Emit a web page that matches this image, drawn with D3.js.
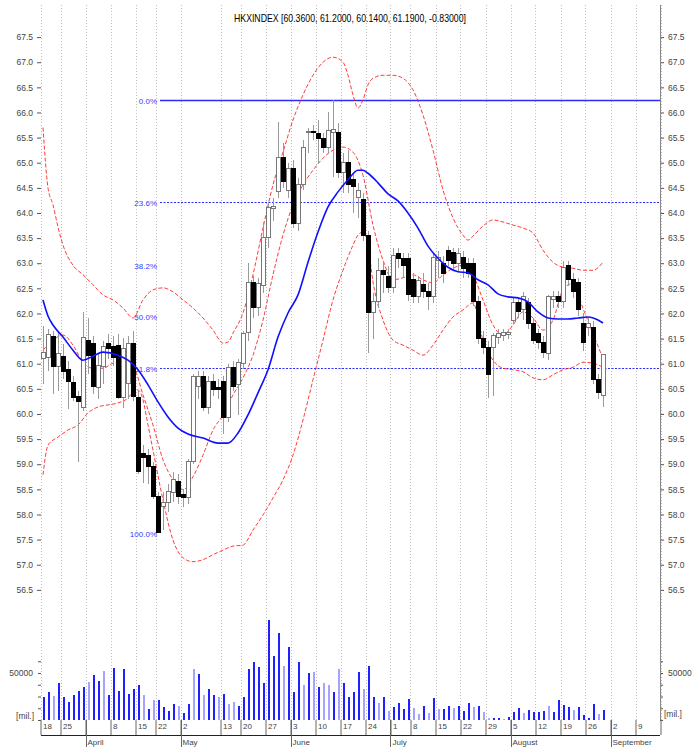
<!DOCTYPE html>
<html>
<head>
<meta charset="utf-8">
<script src="https://cdn.jsdelivr.net/npm/d3@7"></script>
<style>
body { margin: 0; background: #fff; }
svg { display: block; font-family: "Liberation Sans", Arial, sans-serif; }
</style>
</head>
<body>
<script>
// ---- data ----
var openP  = [61.10,61.12,61.55,60.95,61.15,60.88,60.62,60.34,60.12,61.47,61.41,60.52,60.95,61.41,61.35,61.37,60.32,60.60,61.40,60.32,
              59.22,59.18,58.95,58.35,58.15,58.23,58.43,58.65,58.39,58.33,59.05,60.54,60.74,60.12,60.64,60.52,60.64,59.92,60.93,60.58,
              61.00,61.63,62.61,62.11,62.55,63.52,64.08,64.42,65.11,64.45,64.89,63.80,64.56,65.60,65.62,65.59,65.49,65.31,65.61,65.61,
              64.81,65.01,64.66,64.30,64.26,63.56,62.01,62.23,62.86,62.73,62.51,63.20,63.10,63.10,62.67,62.33,62.57,62.43,62.33,63.05,
              63.00,63.26,63.22,63.00,63.12,63.00,63.00,62.23,61.51,61.33,61.33,61.53,61.57,61.59,61.87,62.21,62.07,62.21,61.81,61.61,
              61.43,61.21,62.27,62.33,62.23,62.96,62.67,62.61,61.81,61.73,61.73,60.68,60.36];
var highP  = [61.75,61.70,61.65,61.65,61.40,61.05,60.75,60.45,62.02,61.90,61.55,61.20,61.45,61.60,61.55,61.60,61.51,61.55,61.65,60.45,
              59.38,59.30,59.05,58.45,58.45,58.60,58.85,58.80,58.50,59.10,60.80,60.85,60.85,60.75,60.80,60.70,60.75,61.00,61.05,61.10,
              61.65,63.00,62.75,62.70,63.82,64.20,64.30,65.81,65.40,65.00,65.05,64.70,65.45,65.70,65.75,65.85,65.60,66.01,66.25,65.80,
              65.20,65.25,64.80,64.60,64.40,63.65,62.40,63.10,63.05,62.95,63.30,63.30,63.20,63.20,62.80,62.75,62.80,62.60,63.20,63.25,
              63.15,63.35,63.30,63.30,63.25,63.10,63.10,62.35,61.65,61.45,61.62,61.70,61.70,61.70,62.30,62.30,62.43,62.30,61.90,61.70,
              61.55,62.37,62.45,62.45,63.05,63.05,62.80,62.70,62.00,61.90,61.85,60.80,61.20];
var lowP   = [60.60,60.85,60.40,60.45,60.70,60.10,60.25,59.05,60.05,60.80,60.40,60.30,60.60,61.10,60.95,60.30,60.12,60.30,60.25,58.80,
              58.63,58.60,58.30,57.63,57.70,58.05,58.25,58.20,58.15,58.20,59.00,60.30,60.05,60.00,60.35,60.30,59.60,59.85,60.45,59.98,
              60.90,61.45,61.90,61.95,62.40,63.30,63.85,64.30,64.50,64.30,63.70,63.65,64.45,65.20,65.45,65.00,65.20,65.20,64.71,64.70,
              64.40,64.40,64.00,63.90,63.45,61.21,61.50,62.10,62.40,62.40,62.40,62.90,62.70,62.25,62.20,62.20,62.30,62.07,62.20,62.70,
              62.60,62.95,62.85,62.85,62.70,62.70,62.15,61.40,61.20,60.32,60.35,61.40,61.45,61.50,61.80,61.90,61.87,61.70,61.40,61.30,
              61.11,61.07,62.10,62.10,62.10,62.55,62.30,61.95,61.25,61.55,60.60,60.30,60.14];
var closeP = [61.22,61.58,60.95,61.20,60.85,60.65,60.32,60.24,61.53,61.17,60.54,60.97,61.35,61.31,61.13,60.32,61.31,61.40,60.35,58.85,
              59.14,58.95,58.35,57.65,58.23,58.45,58.69,58.35,58.33,59.05,60.74,60.74,60.12,60.65,60.48,60.48,59.92,60.93,60.55,61.03,
              61.60,62.61,62.11,62.60,63.52,64.10,64.12,65.11,64.62,64.89,63.80,64.56,65.31,65.62,65.60,65.49,65.31,65.65,65.66,64.81,
              65.01,64.56,64.52,64.45,63.56,62.01,62.23,62.86,62.77,62.51,63.15,63.10,62.95,62.37,62.33,62.65,62.43,62.33,63.12,63.12,
              62.80,63.06,63.00,63.20,62.90,62.80,62.23,61.51,61.33,60.78,61.57,61.61,61.63,61.62,62.21,62.03,62.33,61.81,61.47,61.43,
              61.23,62.33,62.33,62.23,62.92,62.67,62.43,62.07,61.43,61.81,60.68,60.42,61.19];
var volume = [24800,30000,26000,39000,25000,19500,26600,31000,35000,40800,47900,41500,52500,26600,55000,31000,54000,27700,32600,37000,
              26600,11700,21000,21000,14000,9900,17000,14900,7800,17000,54000,49000,26600,32600,26600,24000,28000,17000,19500,15000,
              24000,54000,62000,56700,39000,106000,68000,93000,57000,77600,30000,62000,37000,50000,51000,35500,39000,37000,30000,54000,
              39000,24000,30000,51000,32600,57000,24000,18000,24000,10000,14000,18000,11700,22000,13000,6400,15000,7000,23000,11700,
              11700,15000,12400,15000,10000,17700,14000,15000,9000,1800,1800,1800,1000,2800,9000,12400,7000,10600,9000,9000,
              10000,15000,9000,21000,16000,14000,10600,14000,5300,1800,17000,6400,10600];
// days whose volume bar is drawn in the pale colour
var volPaleDays = [2,9,12,20,22,27,30,32,35,37,38,48,52,54,56,57,59,64,67,69,74,75,77,79,82,86,88,89,92,96,101,106,111];

// moving average (blue), short average (red), bollinger bands (red) read at sample days
var maDay  = [0,1,2,4,6,8,10,12,15,17,19,21,23,25,27,29,32,35,37,39,41,43,45,47,49,51,53,55,57,59,61,63,64,65,67,69,71,73,75,77,79,81,83,85,87,89,91,93,95,97,99,101,103,105,107,109,111,112];
var maVal  = [62.27,61.95,61.77,61.53,61.27,61.07,61.15,61.23,61.17,61.07,60.88,60.58,60.24,59.94,59.72,59.60,59.52,59.42,59.42,59.62,
              59.98,60.42,60.88,61.53,62.01,62.37,63.02,63.62,64.12,64.42,64.66,64.85,64.85,64.79,64.60,64.38,64.24,64.00,63.70,63.34,
              63.10,62.92,62.83,62.81,62.67,62.57,62.39,62.33,62.31,62.23,62.03,61.91,61.89,61.89,61.91,61.93,61.87,61.81];
var fastDay = [0,2,4,6,8,10,12,14,16,18,20,22,24,26,28,30,32,34,36,38,40,42,44,46,48,50,52,54,56,58,60,62,64,66,68,70,72,74,76,78,80,82,84,86,88,90,92,94,96,98,100,102,104,106,108,110,112];
var fastVal = [61.27,61.47,61.57,61.37,61.03,60.91,60.91,61.01,61.03,60.95,60.38,59.78,59.09,58.69,58.49,58.75,59.18,59.68,59.98,60.38,
               60.72,61.17,61.87,62.77,63.56,64.16,64.56,64.85,65.09,65.25,65.31,65.21,64.75,63.76,63.06,62.67,62.71,62.77,62.67,62.61,
               62.77,62.90,62.96,62.77,62.27,61.77,61.57,61.77,62.03,61.91,61.67,61.87,62.47,62.60,62.10,61.60,61.10];
var upDay = [0,1,2,3,4,6,8,10,12,14,16,18,20,22,24,26,28,30,32,34,36,37,38,40,42,44,46,48,50,52,54,56,58,60,61,62,63,64,65,66,68,70,72,74,76,78,80,82,84,85,86,88,90,92,94,96,98,100,102,104,106,108,110,112];
var upVal = [65.70,64.50,64.16,63.72,63.36,62.96,62.77,62.57,62.37,62.27,62.11,61.91,62.27,62.47,62.51,62.43,62.27,62.11,61.91,61.67,
             61.41,61.43,61.61,62.01,62.77,63.70,64.56,65.21,65.85,66.35,66.74,67.00,67.10,67.00,66.74,66.35,66.09,66.25,66.55,66.68,
             66.74,66.74,66.68,66.45,65.95,65.25,64.46,63.90,63.56,63.46,63.54,63.74,63.86,63.82,63.76,63.70,63.60,63.26,63.02,62.92,
             62.90,62.86,62.86,63.02];
var loDay = [0,1,3,5,7,9,11,13,15,17,18,19,20,21,22,24,26,28,30,32,34,36,38,40,42,44,46,48,50,52,54,56,58,60,62,63,64,65,66,68,70,72,74,76,78,80,82,84,86,88,90,92,94,96,98,100,102,104,106,108,110,112];
var loVal = [58.79,59.38,59.54,59.68,59.78,60.02,60.14,60.18,60.22,60.32,60.44,60.48,60.28,59.78,59.28,58.29,57.49,57.14,57.06,57.10,
             57.20,57.29,57.37,57.39,57.69,57.99,58.33,58.69,59.18,59.88,60.68,61.47,62.27,62.86,63.36,63.56,63.62,63.36,62.63,61.87,
             61.47,61.37,61.27,61.17,61.37,61.67,61.93,62.07,62.21,61.47,61.07,60.91,60.88,60.84,60.72,60.68,60.78,60.88,60.93,61.03,
             61.01,60.93];

var fibPct = [0, 23.6, 38.2, 50, 61.8, 100];

var priceTicks = [56.5,57,57.5,58,58.5,59,59.5,60,60.5,61,61.5,62,62.5,63,63.5,64,64.5,65,65.5,66,66.5,67,67.5];
var volTicks = [0,12500,25000,37500,50000,62500];

var dayTicks  = [0,4,9,14,19,23,28,36,40,45,50,55,60,65,70,74,79,84,89,94,99,104,109,114,119,124];
var dayLabels = ["18","25","","8","15","22","2","13","20","27","3","10","17","24","1","8","15","22","29","5","12","19","26","2","9",""];
var monthTicks = [9,28,50,70,94,114];
var monthNames = ["April","May","June","July","August","September"];

var title = "HKXINDEX [60.3600, 61.2000, 60.1400, 61.1900, -0.83000]";

// ---- layout ----
var width = 694, height = 747;
var svg = d3.select("body").append("svg").attr("width", width).attr("height", height);

var x = d3.scaleLinear().domain([-1, 123.4]).range([38, 660]);
var y = d3.scaleLinear().domain([55.9, 67.88]).range([620, 18]);
var yv = d3.scaleLinear().domain([0, 106400]).range([720, 620]);

// vertical dotted grid
svg.append("g").selectAll("line").data(dayTicks).enter().append("line")
  .attr("x1", function(d){ return Math.round(x(d - 0.5)) + 0.5; })
  .attr("x2", function(d){ return Math.round(x(d - 0.5)) + 0.5; })
  .attr("y1", 5).attr("y2", 720)
  .attr("stroke", "#bdbdbd").attr("stroke-dasharray", "1,2");

// title
svg.append("text").attr("x", 350).attr("y", 22).attr("text-anchor", "middle")
  .attr("font-size", 11.5).attr("fill", "#000")
  .attr("textLength", 232).attr("lengthAdjust", "spacingAndGlyphs")
  .text(title);

// price axes
var majorFmt = d3.format(".1f");
var minorTicks = d3.range(560, 679).map(function(d){ return d / 10; });

var gl = svg.append("g").attr("transform", "translate(41,0)");
gl.call(d3.axisLeft(y).tickValues(minorTicks).tickSize(2).tickFormat(""));
gl.call(d3.axisLeft(y).tickValues(priceTicks).tickSize(4).tickPadding(4).tickFormat(majorFmt));
gl.selectAll(".domain").remove();

var gr = svg.append("g").attr("transform", "translate(660,0)");
gr.call(d3.axisRight(y).tickValues(minorTicks).tickSize(2).tickFormat(""));
gr.call(d3.axisRight(y).tickValues(priceTicks).tickSize(4).tickPadding(4).tickFormat(majorFmt));
gr.selectAll(".domain").remove();

// volume axes
var volFmt = function(d){ return d === 50000 ? "50000" : ""; };
var gvl = svg.append("g").attr("transform", "translate(41,0)")
  .call(d3.axisLeft(yv).tickValues(volTicks).tickSize(3).tickPadding(5).tickFormat(volFmt));
gvl.selectAll(".domain").remove();
var gvr = svg.append("g").attr("transform", "translate(660,0)")
  .call(d3.axisRight(yv).tickValues(volTicks).tickSize(3).tickPadding(5).tickFormat(volFmt));
gvr.selectAll(".domain").remove();
svg.append("text").attr("x", 34).attr("y", 719).attr("text-anchor", "end").attr("font-size", 8.5).attr("fill", "#444").text("[mil.]");
svg.append("text").attr("x", 664).attr("y", 717).attr("font-size", 8.5).attr("fill", "#444").text("[mil.]");

[gl, gr, gvl, gvr].forEach(function(g){
  g.attr("font-family", null);
  g.selectAll("text").attr("font-size", 8.5).attr("fill", "#444");
  g.selectAll("line").attr("stroke", "#555");
});

// right border line
svg.append("line").attr("x1", 660.5).attr("x2", 660.5).attr("y1", 5).attr("y2", 720).attr("stroke", "#888");

// x axis (days)
var gx = svg.append("g").attr("transform", "translate(0,720)")
  .call(d3.axisBottom(x).tickValues(dayTicks.map(function(d){ return d - 0.5; })).tickSize(15)
    .tickFormat(function(d, i){ return dayLabels[i]; }));
gx.attr("font-family", null);
gx.selectAll(".domain").remove();
gx.selectAll("line").attr("stroke", "#666");
gx.selectAll("text").attr("text-anchor", "start").attr("x", 2).attr("y", 3)
  .attr("font-size", 8).attr("fill", "#444");

// month row
svg.append("line").attr("x1", 41).attr("x2", 660).attr("y1", 735.5).attr("y2", 735.5).attr("stroke", "#222");
var gm = svg.append("g");
gm.selectAll("line").data(monthTicks).enter().append("line")
  .attr("x1", function(d){ return Math.round(x(d - 0.5)) + 0.5; })
  .attr("x2", function(d){ return Math.round(x(d - 0.5)) + 0.5; })
  .attr("y1", 720).attr("y2", 747).attr("stroke", "#666");
gm.selectAll("text").data(monthNames).enter().append("text")
  .attr("x", function(d, i){ return x(monthTicks[i] - 0.5) + 2; })
  .attr("y", 745).attr("font-size", 8).attr("fill", "#444")
  .text(function(d){ return d; });

// fibonacci levels
var hi = d3.max(highP), lo = d3.min(lowP);
var fibStyle = { 0: "solid", 23.6: "dot", 61.8: "dot" };
var fib = svg.append("g");
fibPct.forEach(function(p){
  var lv = hi - (hi - lo) * p / 100;
  var yy = Math.round(y(lv)) + 0.5;
  if (fibStyle[p]) {
    fib.append("line").attr("x1", 160).attr("x2", 660).attr("y1", yy).attr("y2", yy)
      .attr("stroke", "#2a2aff").attr("stroke-width", fibStyle[p] === "solid" ? 1.4 : 1)
      .attr("stroke-dasharray", fibStyle[p] === "solid" ? null : "2,1.5");
  }
  fib.append("text").attr("x", 157).attr("y", yy + 3).attr("text-anchor", "end")
    .attr("font-size", 8).attr("fill", "#3a3aff").text(p.toFixed(1) + "%");
});

// bands and short average (red)
var line = d3.line().x(function(d){ return x(d[0]); }).y(function(d){ return y(d[1]); }).curve(d3.curveMonotoneX);
function pairs(days, vals){ return days.map(function(d, i){ return [d, vals[i]]; }); }

[[upDay, upVal], [loDay, loVal], [fastDay, fastVal]].forEach(function(s){
  svg.append("path").attr("d", line(pairs(s[0], s[1])))
    .attr("fill", "none").attr("stroke", "#ff1a1a").attr("stroke-width", 1)
    .attr("stroke-dasharray", "4,2").attr("opacity", 0.85);
});

// candles
var candles = d3.range(closeP.length);
var gc = svg.append("g").attr("shape-rendering", "crispEdges");
gc.selectAll("line").data(candles).enter().append("line")
  .attr("x1", function(i){ return Math.round(x(i)) + 0.5; })
  .attr("x2", function(i){ return Math.round(x(i)) + 0.5; })
  .attr("y1", function(i){ return y(highP[i]); })
  .attr("y2", function(i){ return y(lowP[i]); })
  .attr("stroke", "#9a9a9a");
gc.selectAll("rect").data(candles).enter().append("rect")
  .attr("x", function(i){ return Math.round(x(i)) - 1.5; })
  .attr("width", 4)
  .attr("y", function(i){ return y(Math.max(openP[i], closeP[i])); })
  .attr("height", function(i){ return Math.max(1, Math.abs(y(openP[i]) - y(closeP[i]))); })
  .attr("fill", function(i){ return closeP[i] >= openP[i] ? "#fff" : "#000"; })
  .attr("stroke", function(i){ return closeP[i] >= openP[i] ? "#777" : "#000"; });

// moving average (blue)
svg.append("path").attr("d", line(pairs(maDay, maVal)))
  .attr("fill", "none").attr("stroke", "#1010ff").attr("stroke-width", 1.6);

// volume bars
svg.append("g").attr("shape-rendering", "crispEdges")
  .selectAll("rect").data(candles).enter().append("rect")
  .attr("x", function(i){ return Math.round(x(i)) - 0.5; })
  .attr("width", 2)
  .attr("y", function(i){ return yv(volume[i]); })
  .attr("height", function(i){ return yv(0) - yv(volume[i]); })
  .attr("fill", function(i){ return volPaleDays.indexOf(i) >= 0 ? "#a4a4ff" : "#2020ff"; });
</script>
</body>
</html>
